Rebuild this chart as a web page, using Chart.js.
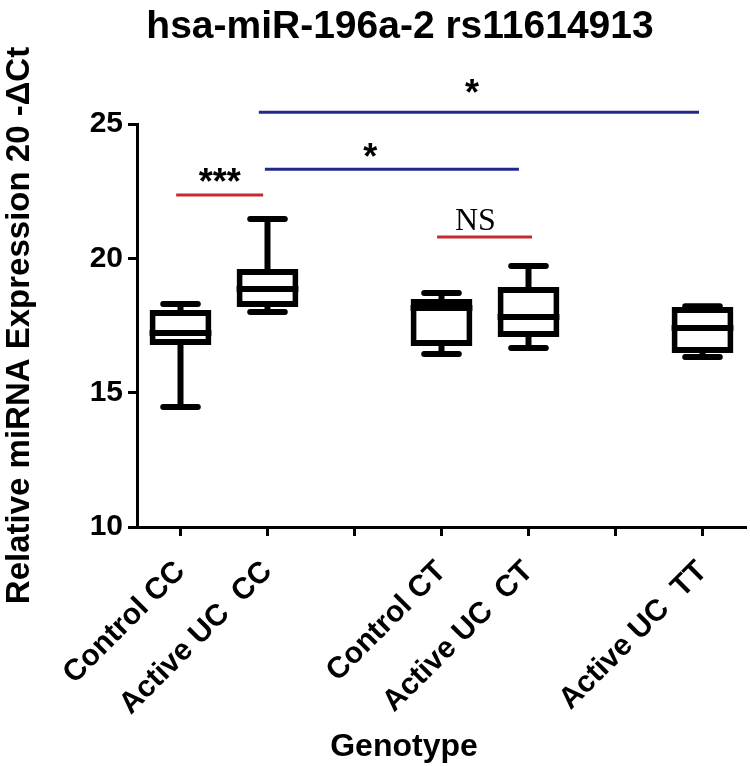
<!DOCTYPE html>
<html>
<head>
<meta charset="utf-8">
<script src="https://cdn.jsdelivr.net/npm/chart.js@4/dist/chart.umd.min.js"></script>
<style>
  html, body { margin: 0; padding: 0; background: #fff; }
  #wrap { width: 750px; height: 766px; }
</style>
</head>
<body>
<div id="wrap"><canvas id="box"></canvas></div>
<script>
// groups on the x axis (blank slots keep the gaps between genotypes)
var labels = ["Control CC", "Active UC  CC", "", "Control CT", "Active UC  CT", "", "Active UC  TT"];

// box plot values
var whiskerMin = [14.47, 18.0, null, 16.44, 16.66, null, 16.33];
var q1 = [16.77, 18.19, null, 16.74, 17.07, null, 16.48];
var median = [17.22, 18.86, null, 18.15, 17.82, null, 17.41];
var q3 = [18.08, 19.6, null, 18.49, 18.93, null, 18.19];
var whiskerMax = [18.3, 21.46, null, 18.71, 19.71, null, 18.22];

// significance bars (x in category index units, y in axis units)
var sigFrom = [-0.05, 0.97, 0.9, 2.95];
var sigTo = [0.95, 3.89, 5.96, 4.04];
var sigLevel = [22.36, 23.32, 25.44, 20.79];
var sigMark = ["***", "*", "*", "NS"];
var sigMarkAt = [0.45, 2.18, 3.35, 3.39];
var sigMarkLevel = [23.03, 23.96, 26.34, 21.46];
var sigColor = ["#c42a2e", "#20288a", "#20288a", "#c42a2e"];

var yTicks = [10, 15, 20, 25];

var FONT = "'Liberation Sans', Arial, sans-serif";

var boxData = labels.map(function (l, i) {
    return q1[i] == null ? null : [q1[i], q3[i]];
});

var whiskers = {
    id: "whiskers",
    beforeDatasetsDraw: function (chart) {
        var x = chart.scales.x, y = chart.scales.y, c = chart.ctx;
        var meta = chart.getDatasetMeta(0);
        c.save();
        c.strokeStyle = "#000";
        c.lineWidth = 6;
        for (var i = 0; i < labels.length; i++) {
            if (whiskerMin[i] == null) continue;
            var cx = x.getPixelForValue(i);
            var half = meta.data[i].width * 0.28;
            c.beginPath();
            c.lineCap = "butt";
            c.moveTo(cx, y.getPixelForValue(whiskerMax[i]));
            c.lineTo(cx, y.getPixelForValue(q3[i]));
            c.moveTo(cx, y.getPixelForValue(q1[i]));
            c.lineTo(cx, y.getPixelForValue(whiskerMin[i]));
            c.stroke();
            c.beginPath();
            c.lineCap = "round";
            c.moveTo(cx - half, y.getPixelForValue(whiskerMax[i]));
            c.lineTo(cx + half, y.getPixelForValue(whiskerMax[i]));
            c.moveTo(cx - half, y.getPixelForValue(whiskerMin[i]));
            c.lineTo(cx + half, y.getPixelForValue(whiskerMin[i]));
            c.stroke();
        }
        c.restore();
    },
    afterDatasetsDraw: function (chart) {
        var x = chart.scales.x, y = chart.scales.y, c = chart.ctx;
        var meta = chart.getDatasetMeta(0);
        c.save();
        c.strokeStyle = "#000";
        c.lineWidth = 6;
        for (var i = 0; i < labels.length; i++) {
            if (median[i] == null) continue;
            var cx = x.getPixelForValue(i);
            var half = meta.data[i].width / 2;
            var my = y.getPixelForValue(median[i]);
            c.beginPath();
            c.moveTo(cx - half, my);
            c.lineTo(cx + half, my);
            c.stroke();
        }
        c.restore();
    },
    afterDraw: function (chart) {
        var x = chart.scales.x, y = chart.scales.y, c = chart.ctx;
        c.save();
        c.fillStyle = "#000";
        c.textAlign = "center";
        c.textBaseline = "alphabetic";
        // title and x axis name (GraphPad puts them off the plot centre)
        c.font = "bold 39px " + FONT;
        c.fillText("hsa-miR-196a-2 rs11614913", 400, 38);
        c.font = "bold 32px " + FONT;
        c.fillText("Genotype", 404, 756);
        // significance bars
        for (var k = 0; k < sigFrom.length; k++) {
            var ly = y.getPixelForValue(sigLevel[k]);
            c.strokeStyle = sigColor[k];
            c.lineWidth = 3;
            c.beginPath();
            c.moveTo(x.getPixelForValue(sigFrom[k]), ly);
            c.lineTo(x.getPixelForValue(sigTo[k]), ly);
            c.stroke();
            var tx = x.getPixelForValue(sigMarkAt[k]);
            var ty = y.getPixelForValue(sigMarkLevel[k]);
            if (sigMark[k] == "NS") {
                c.font = "32px 'Liberation Serif', 'Times New Roman', serif";
                c.fillText(sigMark[k], tx, ty + 11);
            } else {
                c.font = "bold 36px " + FONT;
                c.fillText(sigMark[k], tx, ty + 17);
            }
        }
        c.restore();
    },
};

var ctx = document.getElementById("box");
var chart = new Chart(ctx, {
    type: "bar",
    data: {
        labels: labels,
        datasets: [
            {
                label: "Box",
                data: boxData,
                backgroundColor: "#fff",
                borderColor: "#000",
                borderWidth: 6,
                borderSkipped: false,
                barPercentage: 0.71,
                categoryPercentage: 1,
            },
        ],
    },
    options: {
        responsive: true,
        maintainAspectRatio: false,
        animation: false,
        layout: {
            padding: { top: 124, right: 4, left: 0, bottom: 0 },
        },
        plugins: {
            legend: { display: false },
            title: { display: false },
            tooltip: { enabled: false },
        },
        scales: {
            x: {
                offset: true,
                grid: {
                    offset: false,
                    drawOnChartArea: false,
                    drawTicks: true,
                    tickLength: 9,
                    tickWidth: 3,
                    tickColor: "#000",
                },
                border: { display: true, width: 3, color: "#000" },
                ticks: {
                    color: "#000",
                    font: { family: FONT, size: 30, weight: "bold" },
                    minRotation: 45,
                    maxRotation: 45,
                    autoSkip: false,
                    padding: 18,
                },
                afterFit: function (scale) {
                    scale.height = 239;
                },
            },
            y: {
                min: 10,
                max: 25,
                afterBuildTicks: function (scale) {
                    scale.ticks = yTicks.map(function (v) { return { value: v }; });
                },
                grid: {
                    drawOnChartArea: false,
                    drawTicks: true,
                    tickLength: 9,
                    tickWidth: 3,
                    tickColor: "#000",
                },
                border: { display: true, width: 3, color: "#000" },
                ticks: {
                    color: "#000",
                    font: { family: FONT, size: 30, weight: "bold" },
                    padding: 5,
                },
                title: {
                    display: true,
                    text: "Relative miRNA Expression 20 -\u0394Ct",
                    color: "#000",
                    font: { family: FONT, size: 33, weight: "bold" },
                    padding: { top: 0, bottom: 0 },
                },
                afterFit: function (scale) {
                    scale.width = 137;
                },
            },
        },
    },
    plugins: [whiskers],
});
</script>
</body>
</html>
